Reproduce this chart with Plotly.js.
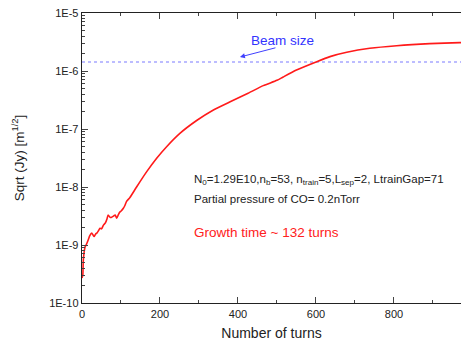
<!DOCTYPE html>
<html>
<head>
<meta charset="utf-8">
<script src="https://cdn.plot.ly/plotly-3.0.1.min.js"></script>
<style>html,body{margin:0;padding:0;background:#fff;}#chart{width:461px;height:341px;}</style>
</head>
<body>
<div id="chart"></div>
<script>
// Data
var turns = [0, 2, 3.4, 8, 12, 16, 20, 25, 28, 31, 35, 38, 42, 46, 50, 55, 60, 64, 67, 72, 76, 81, 85, 89, 93, 97, 101, 106, 110, 114, 123, 140, 166, 191, 217, 251, 294, 337, 380, 426, 465, 500, 516, 550, 602, 636, 679, 738, 807, 892, 969, 1000];
var sqrtJy = [2.7e-10, 3.0e-10, 5.5e-10, 9.3e-10, 1.05e-9, 1.23e-9, 1.45e-9, 1.6e-9, 1.5e-9, 1.4e-9, 1.55e-9, 1.6e-9, 1.75e-9, 1.95e-9, 1.9e-9, 2.2e-9, 2.4e-9, 2.8e-9, 3.3e-9, 3.0e-9, 3.0e-9, 3.15e-9, 3.3e-9, 2.9e-9, 3.3e-9, 3.7e-9, 3.9e-9, 4.3e-9, 4.8e-9, 5.6e-9, 6.6e-9, 1.0e-8, 1.84e-8, 3.1e-8, 4.95e-8, 8.4e-8, 1.40e-7, 2.13e-7, 2.95e-7, 4.13e-7, 5.6e-7, 6.9e-7, 7.9e-7, 1.04e-6, 1.45e-6, 1.77e-6, 2.1e-6, 2.46e-6, 2.73e-6, 2.96e-6, 3.08e-6, 3.12e-6];
var beamSize = 1.43e-6;
var xTickVals = [0, 200, 400, 600, 800];
var yTickVals = [1e-10, 1e-9, 1e-8, 1e-7, 1e-6, 1e-5];
var yTickText = ["1E-10", "1E-9", "1E-8", "1E-7", "1E-6", "1E-5"];
var infoLine1 = "N<sub>0</sub>=1.29E10,n<sub>b</sub>=53, n<sub>train</sub>=5,L<sub>sep</sub>=2, LtrainGap=71";
var infoLine2 = "Partial pressure of CO= 0.2nTorr";
var growthText = "Growth time ~ 132 turns";

var L = Math.log10;
var traces = [
  {x: [0, 1000], y: [beamSize, beamSize], mode: 'lines', line: {color: '#7a7aff', width: 1.2, dash: 'dot'}, hoverinfo: 'skip'},
  {x: turns, y: sqrtJy, mode: 'lines', line: {color: '#ff1a1a', width: 1.6, shape: 'spline', smoothing: 0.6}}
];
var fontFam = 'Liberation Sans, Arial, sans-serif';
var layout = {
  width: 461, height: 341,
  margin: {l: 82, r: 0, t: 13, b: 38},
  showlegend: false,
  paper_bgcolor: '#fff', plot_bgcolor: '#fff',
  font: {family: fontFam, color: '#222', size: 11},
  xaxis: {
    range: [0, 972], tickvals: xTickVals, ticks: 'inside', ticklen: 6, tickwidth: 1,
    showline: true, linecolor: '#222', linewidth: 1.3, mirror: 'allticks', zeroline: false, showgrid: false,
    minor: {dtick: 100, ticks: 'inside', ticklen: 3, tickwidth: 1, showgrid: false},
    tickfont: {size: 11, color: '#222'},
    title: {text: 'Number of turns', font: {size: 14, color: '#222'}, standoff: 18}
  },
  yaxis: {
    type: 'log', range: [-10, -5], tickvals: yTickVals, ticktext: yTickText, ticks: 'inside', ticklen: 6, tickwidth: 1,
    showline: true, linecolor: '#222', linewidth: 1.3, zeroline: false, showgrid: false,
    minor: {dtick: 'D1', ticks: 'inside', ticklen: 3, tickwidth: 1, showgrid: false},
    tickfont: {size: 11, color: '#222'},
    title: {text: 'Sqrt (Jy) [m<sup>1/2</sup>]', font: {size: 13.5, color: '#222'}, standoff: 21}
  },
  annotations: [
    {x: 405, y: L(1.74e-6), xref: 'x', yref: 'y', ax: 500, ay: L(2.55e-6), axref: 'x', ayref: 'y', text: '', showarrow: true, arrowhead: 2, arrowsize: 1, arrowwidth: 1, arrowcolor: '#4040ff'},
    {x: 515, y: L(3.4e-6), xref: 'x', yref: 'y', text: 'Beam size', showarrow: false, font: {size: 13.5, color: '#3333ff'}, xanchor: 'center', yanchor: 'middle'},
    {x: 282, y: -7.88, xref: 'x', yref: 'y', text: infoLine1, showarrow: false, font: {size: 11.5, color: '#222'}, xanchor: 'left', yanchor: 'middle'},
    {x: 282, y: -8.2, xref: 'x', yref: 'y', text: infoLine2, showarrow: false, font: {size: 11.5, color: '#222'}, xanchor: 'left', yanchor: 'middle'},
    {x: 282, y: L(1.65e-9), xref: 'x', yref: 'y', text: growthText, showarrow: false, font: {size: 13.5, color: '#ff2020'}, xanchor: 'left', yanchor: 'middle'}
  ]
};
Plotly.newPlot('chart', traces, layout, {displayModeBar: false, staticPlot: true});
</script>
</body>
</html>
